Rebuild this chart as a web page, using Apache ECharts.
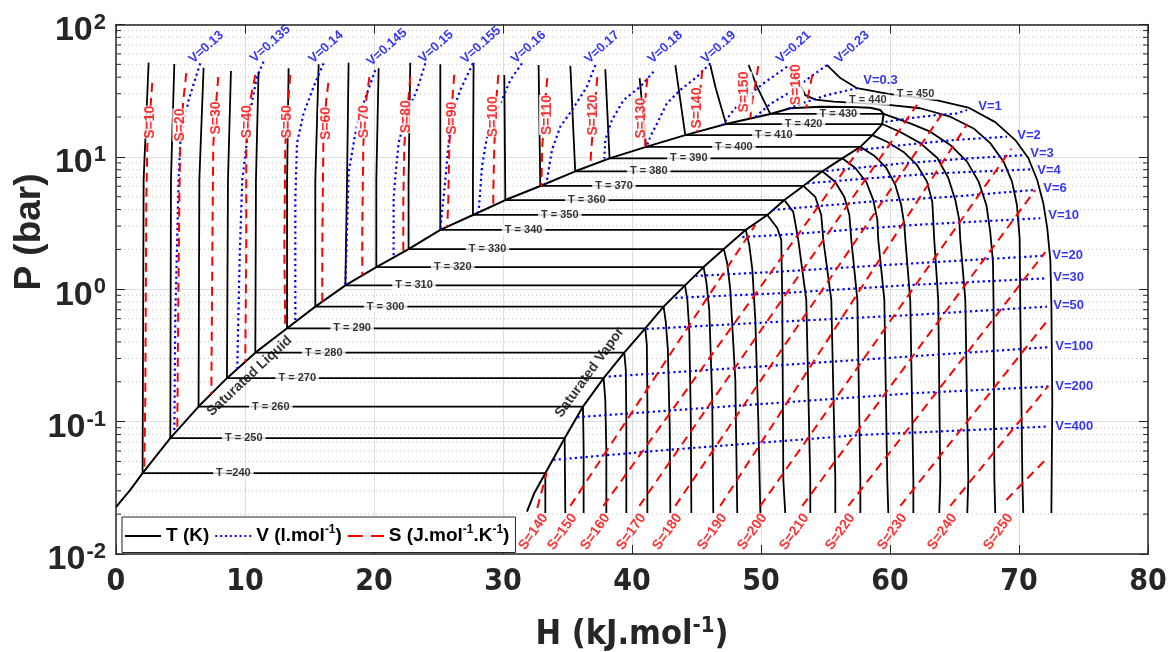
<!DOCTYPE html>
<html><head><meta charset="utf-8">
<script src="https://cdn.jsdelivr.net/npm/echarts/dist/echarts.min.js"></script>
<style>html,body{margin:0;padding:0;background:#fff}#c{width:1175px;height:652px}</style>
</head><body><div id="c"></div>
<script>
// ---------------- DATA (H in kJ/mol, P in bar) ----------------
const satT = [240,250,260,270,280,290,300,310,320,330,340,350,360,370,380,390,400,410,420,430];
const satP = [0.0408,0.075,0.130,0.213,0.332,0.507,0.739,1.07,1.47,2.01,2.81,3.64,4.72,6.03,7.78,9.75,11.9,14.6,17.7,21.1];
const satHliq = [2.06,4.21,6.40,8.60,10.80,13.26,15.45,17.78,20.18,22.68,25.14,27.67,30.18,32.89,35.60,38.26,41.09,44.13,47.29,50.72];
const satHvap = [33.28,34.78,36.20,37.80,39.40,41.03,42.45,44.11,45.55,47.12,48.82,50.49,51.81,53.28,54.75,56.30,57.70,58.63,59.40,59.50];
const domeLowLiq = [[0.02,0.0227],[0.33,0.0248],[1.11,0.0305]];
const domeTop = [[52.27,23.3],[54.60,23.9],[56.92,23.8],[58.47,23.5],[59.25,22.6]];
const domeLowVap = [[32.43,0.0289],[31.86,0.0209]];

// liquid isotherm points above the saturated-liquid point (T = 240..430)
const liqIsoUpper = [
 [[2.14,6.69],[2.53,51.5]],[[4.26,6.69],[4.52,50.3]],[[6.46,6.69],[6.79,47.2]],[[8.68,6.69],[8.91,44.6]],
 [[10.85,6.69],[11.05,44.0]],[[13.26,6.69],[13.38,46.7]],[[15.45,6.69],[15.71,50.0]],[[17.91,6.69],[18.03,51.5]],
 [[20.18,6.69],[20.36,46.7]],[[22.68,6.69],[22.81,51.5]],[[25.14,6.69],[25.14,50.0]],[[27.67,6.69],[27.72,51.5]],
 [[30.10,41.6]],[[32.76,49.4]],[[35.22,48.8]],[[37.93,45.9]],[[40.59,39.3]],
 [[43.74,26.9],[43.36,49.4]],[[46.46,33.9],[46.07,49.4]],[[49.69,33.9],[49.04,49.4]]
];
// vapour isotherm points below the saturated-vapour point (T = 240..430)
const vapIsoLower = [
 [[33.28,0.0204]],
 [[34.83,0.0204]],
 [[36.25,0.0611],[36.25,0.0204]],
 [[37.93,0.146],[38.01,0.0611],[38.01,0.0204]],
 [[39.52,0.246],[39.56,0.103],[39.56,0.0204]],
 [[41.15,0.380],[41.19,0.146],[41.19,0.0204]],
 [[42.62,0.566],[42.78,0.348],[42.93,0.0866],[42.97,0.0204]],
 [[44.29,0.830],[44.44,0.493],[44.56,0.103],[44.60,0.0204]],
 [[45.76,1.14],[45.99,0.698],[46.22,0.146],[46.30,0.0204]],
 [[47.39,1.55],[47.62,0.988],[48.01,0.206],[48.16,0.0204]],
 [[49.09,2.16],[49.33,1.40],[49.56,0.586],[49.79,0.103],[49.95,0.0204]],
 [[51.26,2.90],[51.57,2.36],[51.65,0.830],[51.73,0.0363],[51.88,0.0204]],
 [[52.50,3.84],[52.89,2.36],[53.51,0.830],[53.82,0.0363],[53.82,0.0204]],
 [[54.21,4.98],[54.67,3.64],[54.83,2.36],[55.45,0.830],[55.76,0.0363],[55.76,0.0204]],
 [[55.76,6.46],[56.46,4.98],[56.85,3.64],[57.00,2.36],[57.47,0.830],[57.70,0.0363],[57.70,0.0204]],
 [[57.31,8.25],[58.16,6.46],[58.70,4.73],[59.02,3.34],[59.09,2.36],[59.56,0.830],[59.79,0.0363],[59.87,0.0204]],
 [[58.78,10.2],[59.71,8.25],[60.41,6.14],[60.87,4.33],[61.11,3.06],[61.19,2.36],[61.57,0.830],[61.81,0.0363],[61.81,0.0204]],
 [[59.77,13.0],[61.05,10.9],[62.09,8.69],[62.87,6.50],[63.28,4.56],[63.36,3.22],[63.43,2.36],[63.74,0.830],[63.90,0.0363],[63.82,0.0204]],
 [[60.80,15.4],[62.35,12.7],[63.67,9.81],[64.52,6.93],[65.06,4.73],[65.37,3.34],[65.45,2.36],[65.84,0.830],[66.07,0.0363],[65.99,0.0204]],
 [[61.57,17.9],[63.12,15.5],[64.67,12.3],[65.97,9.2],[66.87,6.5],[67.47,4.33],[67.77,2.72],[67.98,1.62],[68.03,0.761],[68.09,0.0363],[68.16,0.0204]]
];
const iso440 = [[52.14,48.0],[53.18,33.0],[53.43,29.3],[54.21,27.1],[55.63,26.1],[59.89,24.7],[62.35,23.3],[64.67,20.1],[66.48,16.4],[67.77,12.7],[68.81,9.2],[69.46,6.5],[69.84,4.33],[70.05,2.43],[70.10,0.761],[70.26,0.0363],[70.33,0.0204]];
const iso450 = [[55.12,49.4],[56.15,39.4],[57.44,33.0],[59.87,29.9],[63.51,26.9],[66.07,23.6],[68.16,18.3],[69.71,13.4],[70.72,9.81],[71.41,6.69],[71.88,4.49],[72.19,2.90],[72.43,1.66],[72.51,0.761],[72.58,0.146],[72.51,0.0204]];
const tLabelH = [9.1,9.9,12.0,14.05,16.1,18.3,20.9,23.1,26.1,28.8,31.6,34.4,36.5,38.6,41.3,44.4,47.9,51.0,53.3,56.0];
const tSuperLabels = [[440,58.28,26.9],[450,61.98,29.7]];

// isochores (l/mol)
const vLiqValues = ['0.13','0.135','0.14','0.145','0.15','0.155','0.16','0.17','0.18','0.19','0.21','0.23'];
const isoVliq = [
 [[6.53,50.9],[5.63,26.9],[4.98,12.7],[4.85,6.69],[4.73,2.10],[4.60,0.662],[4.52,0.081]],
 [[11.44,52.4],[10.93,40.3],[10.57,26.9],[10.16,13.4],[9.79,6.69],[9.60,1.98],[9.40,0.250]],
 [[16.09,50.9],[15.32,33.9],[14.54,21.3],[14.03,12.7],[13.90,4.73],[13.90,2.10],[13.90,0.566]],
 [[20.10,45.3],[19.46,30.2],[18.81,20.1],[18.42,12.7],[18.03,7.52],[17.91,2.81],[17.78,1.07]],
 [[23.98,50.9],[23.33,32.0],[22.43,20.1],[21.91,12.7],[21.65,7.09],[21.52,4.73],[21.52,1.73]],
 [[27.67,50.9],[26.69,32.0],[26.05,21.3],[25.78,12.7],[25.53,6.69],[25.29,3.97],[25.14,2.81]],
 [[31.47,50.9],[30.57,38.1],[29.92,26.9],[29.27,19.0],[28.76,14.2],[28.37,8.43],[28.24,5.62],[28.11,3.81]],
 [[37.16,49.4],[36.51,33.9],[35.35,22.6],[34.44,16.9],[33.80,11.3],[33.41,6.69],[33.36,6.24]],
 [[41.67,44.0],[40.64,33.9],[39.35,26.9],[38.45,19.0],[37.93,13.4],[37.85,9.69]],
 [[46.07,50.9],[45.04,40.3],[43.74,32.0],[42.71,25.4],[41.94,17.9],[41.29,13.4],[41.16,11.9]],
 [[52.02,48.0],[50.20,36.0],[48.91,28.5],[47.88,22.6],[47.00,17.4]],
 [[55.12,49.4],[53.82,40.1],[52.27,30.9],[50.72,25.1],[49.56,20.0]]
];
const vLiqLabelPos = [[7.00,67.3],[11.96,71.3],[16.28,67.3],[21.01,67.3],[24.81,68.0],[28.29,70.0],[31.98,67.3],[37.67,67.3],[42.58,67.3],[46.71,67.3],[52.53,67.3],[57.05,67.3]];
const vVapValues = ['0.3','1','2','3','4','6','10','20','30','50','100','200','400'];
const isoVvap = [
 [[52.12,23.1],[53.18,25.4],[55.12,29.3],[57.44,33.0]],
 [[59.64,18.4],[61.57,19.6],[63.64,20.7],[65.19,21.3],[65.97,22.6]],
 [[57.70,11.3],[61.05,12.3],[64.93,13.4],[69.07,14.2]],
 [[55.06,7.82],[61.05,8.95],[66.22,9.76],[70.36,10.3]],
 [[53.57,6.32],[58.47,6.89],[63.64,7.52],[71.13,8.06]],
 [[50.88,3.97],[58.47,4.59],[64.93,5.01],[71.13,5.62]],
 [[48.55,2.48],[51.50,2.57],[61.83,3.06],[71.65,3.44]],
 [[44.91,1.26],[51.50,1.36],[61.83,1.57],[71.91,1.79]],
 [[43.36,0.860],[51.50,0.933],[61.83,1.08],[72.17,1.21]],
 [[41.11,0.501],[51.50,0.569],[61.83,0.640],[72.17,0.739]],
 [[38.19,0.219],[47.88,0.253],[61.83,0.312],[72.30,0.365]],
 [[35.76,0.108],[45.30,0.126],[61.83,0.164],[72.30,0.184]],
 [[33.90,0.0514],[42.71,0.0611],[57.70,0.0793],[72.17,0.0917]]
];
const vVapLabelPos = [[57.93,38.1],[66.84,24.2],[69.87,14.6],[70.88,10.7],[71.42,7.96],[71.88,5.82],[72.27,3.64],[72.58,1.79],[72.66,1.22],[72.66,0.761],[72.81,0.368],[72.81,0.186],[72.81,0.0917]];

// isentropes (J/mol/K)
const sLiqValues = [10,20,30,40,50,60,70,80,90,100,110,120,130,140,150,160];
const isoSliq = [
 [[2.81,36.2],[2.66,22.6],[2.43,12.3],[2.35,4.73],[2.31,0.830],[2.27,0.146],[2.19,0.0424]],
 [[5.45,43.0],[5.22,26.9],[4.98,12.3],[4.91,4.73],[4.83,0.830],[4.75,0.0866]],
 [[7.93,40.1],[7.78,26.9],[7.54,12.3],[7.47,1.98],[7.39,0.162]],
 [[10.80,41.6],[10.41,26.9],[10.10,12.3],[10.10,1.98],[10.02,0.282]],
 [[13.51,41.6],[13.36,26.9],[13.12,12.3],[13.05,1.98],[13.12,0.50]],
 [[16.46,36.2],[16.30,26.9],[16.07,12.3],[15.99,1.98],[15.99,0.806]],
 [[19.64,40.1],[19.40,26.9],[19.17,12.3],[19.09,2.81],[19.09,1.27]],
 [[22.81,40.1],[22.66,26.9],[22.35,12.3],[22.27,4.73],[22.27,1.91]],
 [[26.22,41.6],[26.07,26.9],[25.84,12.3],[25.76,4.73],[25.68,2.97]],
 [[29.64,41.6],[29.48,26.9],[29.33,12.3],[29.25,5.62],[29.25,4.29]],
 [[33.43,39.4],[33.28,26.9],[33.05,12.3],[32.97,6.03]],
 [[37.31,40.1],[37.16,26.9],[36.84,11.3],[36.77,8.54]],
 [[41.19,39.4],[41.03,26.9],[41.03,11.9]],
 [[45.45,45.3],[45.22,26.9],[45.06,15.4]],
 [[49.79,48.6],[49.56,34.9],[49.33,26.9],[49.17,19.5]],
 [[53.98,41.6],[53.82,34.9],[53.67,29.3],[53.51,23.4]]
];
const sLiqLabelPos = [[2.66,18.3],[4.98,17.4],[7.75,19.7],[10.16,18.4],[13.30,18.4],[16.28,17.9],[19.25,18.4],[22.48,20.1],[26.09,19.6],[29.25,20.1],[33.41,20.7],[37.00,20.7],[40.72,19.6],[45.06,23.4],[48.71,30.9],[52.70,35.1]];
const sVapValues = [140,150,160,170,180,190,200,210,220,230,240,250];
const isoSvap = [
 [[32.66,0.0223],[33.39,0.0413]],
 [[35.22,0.0231],[49.56,3.06]],
 [[37.78,0.0231],[57.70,11.7]],
 [[40.57,0.0231],[62.09,24.7]],
 [[43.36,0.0231],[64.13,21.8]],
 [[46.84,0.0231],[65.99,17.7]],
 [[49.95,0.0231],[69.40,11.5]],
 [[53.20,0.0231],[71.26,5.62]],
 [[56.77,0.0231],[72.04,1.91]],
 [[60.80,0.0231],[72.12,0.566]],
 [[64.67,0.0231],[72.27,0.186]],
 [[69.02,0.0256],[72.27,0.0541]]
];
const sVapLabelH = [32.36,34.60,37.16,39.94,42.74,46.22,49.33,52.58,56.15,60.18,64.05,68.39];
const sVapLabelP = 0.0147;
const phaseLabels = [['Saturated Liquid',10.35,0.221,43],['Saturated Vapor',36.71,0.235,54]];

// ---------------- CHART ----------------
const FONT = "'Liberation Sans', Arial, Helvetica, sans-serif";
const NARROW = "'Liberation Sans Narrow', 'DejaVu Sans Condensed', 'Liberation Sans', sans-serif";
const AX = '#262626';
const BLUE = '#0000ff', RED = '#ff0000', BLACK = '#000000';
const series = [];
function addLine(name, data, color, type, width, z) {
  series.push({type:'line', name, data, symbol:'none', showSymbol:false, silent:true, animation:false,
    z, clip:true, lineStyle:{color, width, type, cap:'butt', join:'round'}, itemStyle:{color},
    emphasis:{disabled:true}});
}
// isotherms
satT.forEach((t, i) => {
  addLine('T', [[satHliq[i], satP[i]]].concat(liqIsoUpper[i]), BLACK, 'solid', 1.8, 3);
  addLine('T', [[satHliq[i], satP[i]], [satHvap[i], satP[i]]], BLACK, 'solid', 1.8, 3);
  addLine('T', [[satHvap[i], satP[i]]].concat(vapIsoLower[i]), BLACK, 'solid', 1.8, 3);
});
addLine('T', iso440, BLACK, 'solid', 1.8, 3);
addLine('T', iso450, BLACK, 'solid', 1.8, 3);
const dome = domeLowLiq.concat(satT.map((t,i)=>[satHliq[i], satP[i]]), domeTop,
  satT.map((t,i)=>[satHvap[i], satP[i]]).reverse(), domeLowVap);
addLine('T', dome, BLACK, 'solid', 2, 3);
// isochores
const DOT = [2.2, 3.2];
isoVliq.forEach(d => addLine('V', d, BLUE, DOT, 2.2, 4));
isoVvap.forEach(d => addLine('V', d, BLUE, DOT, 2.2, 4));
// isentropes
const DASH = [9, 6];
isoSliq.forEach(d => addLine('S', d, RED, DASH, 2, 5));
isoSvap.forEach(d => addLine('S', d, RED, DASH, 2, 5));

function labelSeries(items, style, z) {
  series.push({type:'scatter', data: items, symbolSize:0, silent:true, animation:false, z, clip:false,
    label: Object.assign({show:true, position:'inside', formatter: p => p.name, fontFamily: FONT, fontWeight:'bold'}, style)});
}
const tItems = satT.map((t,i)=>({name: t===240 ? 'T =240' : 'T = '+t, value:[tLabelH[i], satP[i]]}))
  .concat(tSuperLabels.map(a=>({name:'T = '+a[0], value:[a[1], a[2]]})));
labelSeries(tItems, {color:BLACK, fontSize:11, backgroundColor:'#fff', padding:[0,3]}, 10);
labelSeries(vLiqValues.map((v,i)=>({name:'V='+v, value:vLiqLabelPos[i]})), {color:BLUE, fontSize:13, rotate:42}, 10);
labelSeries(vVapValues.map((v,i)=>({name:'V='+v, value:vVapLabelPos[i]})), {color:BLUE, fontSize:13, position:'right', distance:0, align:'left'}, 10);
labelSeries(sLiqValues.map((s,i)=>({name:'S='+s, value:sLiqLabelPos[i]})), {color:RED, fontSize:14, rotate:90, backgroundColor:'#fff', padding:[1,0]}, 10);
labelSeries(sVapValues.map((s,i)=>({name:'S='+s, value:[sVapLabelH[i], sVapLabelP]})), {color:RED, fontSize:14, rotate:55}, 10);
labelSeries(phaseLabels.map(a=>({name:a[0], value:[a[1],a[2]], label:{rotate:a[3]}})), {color:BLACK, fontSize:14}, 10);

// minor log grid + minor ticks
const minorP = [];
[-2,-1,0,1].forEach(k => { for (let m = 2; m <= 9; m++) minorP.push(+(m*Math.pow(10,k)).toPrecision(3)); });
series.push({type:'custom', silent:true, animation:false, z:1, clip:false, data: minorP.map(p=>[0,p]),
  renderItem: (params, api) => {
    const p = api.value(1);
    const a = api.coord([0,p]), b = api.coord([80,p]);
    return {type:'group', children:[
      {type:'line', shape:{x1:a[0],y1:a[1],x2:b[0],y2:b[1]}, style:{stroke:'#c4c4c4', lineWidth:1, lineDash:[1,3]}},
      {type:'line', shape:{x1:a[0],y1:a[1],x2:a[0]+5,y2:a[1]}, style:{stroke:AX, lineWidth:1}},
      {type:'line', shape:{x1:b[0]-5,y1:b[1],x2:b[0],y2:b[1]}, style:{stroke:AX, lineWidth:1}}
    ]};
  }
});

const legendNames = {T:'{a|T (K)}', V:'{a|V (l.mol}{s|-1}{a|)}', S:'{a|S (J.mol}{s|-1}{a|.K}{s|-1}{a|)}'};
const ICON_T = 'path://M0,0h36v2h-36z';
const ICON_V = 'path://M0,0h2v2h-2zM5,0h2v2h-2zM10,0h2v2h-2zM15,0h2v2h-2zM20,0h2v2h-2zM25,0h2v2h-2zM30,0h2v2h-2zM35,0h2v2h-2z';
const ICON_S = 'path://M0,0h15v2h-15zM23,0h13v2h-13z';

const option = {
  animation:false,
  backgroundColor:'#ffffff',
  grid:{left:116, right:27, top:24.5, bottom:98, containLabel:false, outerBoundsMode:'none'},
  graphic:[{type:'text', x:30, y:232, rotation:Math.PI/2, silent:true,
    style:{text:'P (bar)', x:0, y:0, align:'center', verticalAlign:'middle',
      font:"bold 37px 'Liberation Sans', Arial, sans-serif", fill:AX}}],
  xAxis:[{
    type:'value', min:0, max:80, interval:10, position:'bottom',
    axisLine:{show:true, onZero:false, lineStyle:{color:AX, width:1.5}},
    axisTick:{show:true, inside:true, length:9, lineStyle:{color:AX, width:1}},
    axisLabel:{fontFamily:NARROW, fontWeight:'bold', fontSize:30, color:AX, margin:13, showMinLabel:true, showMaxLabel:true},
    splitLine:{show:true, lineStyle:{color:'#dedede', width:1}},
    name:'{a|H (kJ.mol}{s|-1}{a|)}', nameLocation:'middle', nameGap:61,
    nameTextStyle:{rich:{
      a:{fontFamily:NARROW, fontWeight:'bold', fontSize:34, color:AX, lineHeight:40},
      s:{fontFamily:NARROW, fontWeight:'bold', fontSize:22, color:AX, verticalAlign:'top', lineHeight:22}}}
  },{
    type:'value', min:0, max:80, interval:10, position:'top',
    axisLine:{show:true, onZero:false, lineStyle:{color:AX, width:1.5}},
    axisTick:{show:true, inside:true, length:9, lineStyle:{color:AX, width:1}},
    axisLabel:{show:false}, splitLine:{show:false}
  }],
  yAxis:[{
    type:'log', logBase:10, min:0.01, max:100, position:'left',
    axisLine:{show:true, onZero:false, lineStyle:{color:AX, width:1.5}},
    axisTick:{show:true, inside:true, length:9, lineStyle:{color:AX, width:1}},
    axisLabel:{margin:10, showMinLabel:true, showMaxLabel:true,
      formatter: v => '{a|10}{s|' + Math.round(Math.log10(v)) + '}',
      rich:{
        a:{fontFamily:FONT, fontWeight:'bold', fontSize:34, color:AX, lineHeight:36, padding:[12,0,0,0]},
        s:{fontFamily:FONT, fontWeight:'bold', fontSize:22, color:AX, verticalAlign:'top', lineHeight:22, padding:[5,0,0,1]}
      }},
    splitLine:{show:true, lineStyle:{color:'#dedede', width:1}}
  },{
    type:'log', logBase:10, min:0.01, max:100, position:'right',
    axisLine:{show:true, onZero:false, lineStyle:{color:AX, width:1.5}},
    axisTick:{show:true, inside:true, length:9, lineStyle:{color:AX, width:1}},
    axisLabel:{show:false}, splitLine:{show:false}
  }],
  legend:{
    data:[{name:'T', icon:ICON_T},{name:'V', icon:ICON_V},{name:'S', icon:ICON_S}],
    left:122, top:517, orient:'horizontal', selectedMode:false,
    itemWidth:36, itemHeight:2.2, itemGap:6, padding:[7,6,7,3],
    backgroundColor:'#ffffff', borderColor:AX, borderWidth:1, borderRadius:0,
    formatter: n => legendNames[n],
    textStyle:{rich:{
      a:{fontFamily:FONT, fontWeight:'bold', fontSize:19, color:BLACK, lineHeight:24},
      s:{fontFamily:FONT, fontWeight:'bold', fontSize:12, color:BLACK, verticalAlign:'top', lineHeight:12}}}
  },
  series
};
const chart = echarts.init(document.getElementById('c'), null, {renderer:'canvas'});
chart.setOption(option);
</script></body></html>
